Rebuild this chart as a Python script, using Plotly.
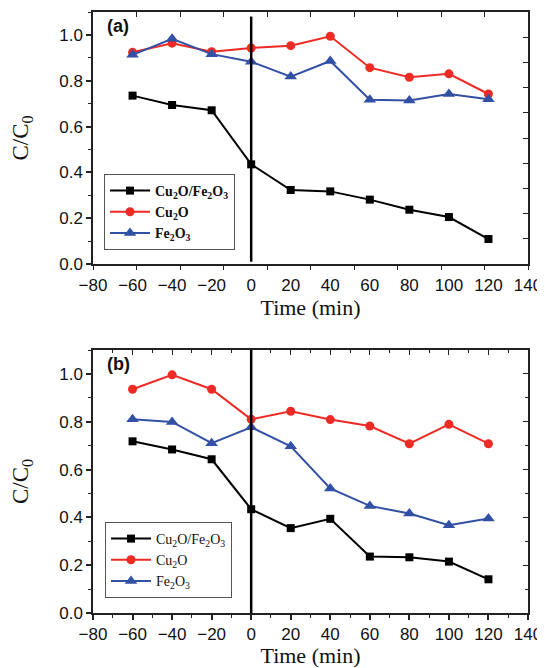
import plotly.graph_objects as go

# time axis (min)
time = [-60, -40, -20, 0, 20, 40, 60, 80, 100, 120]

# panel (a)
a_cu2o_fe2o3 = [0.735, 0.694, 0.671, 0.435, 0.323, 0.317, 0.281, 0.237, 0.205, 0.109]
a_cu2o = [0.924, 0.964, 0.927, 0.943, 0.953, 0.994, 0.857, 0.815, 0.830, 0.742]
a_fe2o3 = [0.913, 0.983, 0.916, 0.883, 0.818, 0.886, 0.717, 0.714, 0.742, 0.719]

# panel (b)
b_cu2o_fe2o3 = [0.718, 0.684, 0.643, 0.434, 0.355, 0.394, 0.236, 0.233, 0.215, 0.141]
b_cu2o = [0.936, 0.996, 0.936, 0.810, 0.844, 0.809, 0.782, 0.708, 0.789, 0.708]
b_fe2o3 = [0.810, 0.799, 0.710, 0.777, 0.697, 0.521, 0.448, 0.416, 0.367, 0.395]

names = ["Cu<sub>2</sub>O/Fe<sub>2</sub>O<sub>3</sub>", "Cu<sub>2</sub>O", "Fe<sub>2</sub>O<sub>3</sub>"]
colors = ["#000000", "#ee2a24", "#3250a4"]
symbols = ["square", "circle", "triangle-up"]
msizes = [8, 9, 11]

SANS = "Liberation Sans"
SERIF = "Liberation Serif"

# page body adds an 8px margin, so the figure is 8px smaller each way
W, H = 537, 660
def px_x(p):
    return (p - 8) / W
def px_y(p):
    return 1 - (p - 8) / H

fig = go.Figure()

#Panel a traces
for i, ys in enumerate([a_cu2o_fe2o3, a_cu2o, a_fe2o3]):
    fig.add_trace(go.Scatter(x=time, y=ys, mode="lines+markers",
                             name="<b>" + names[i] + "</b>",
                             line=dict(color=colors[i], width=2),
                             marker=dict(symbol=symbols[i], size=msizes[i], color=colors[i]),
                             xaxis="x", yaxis="y", legend="legend"))

#Panel b traces
for i, ys in enumerate([b_cu2o_fe2o3, b_cu2o, b_fe2o3]):
    fig.add_trace(go.Scatter(x=time, y=ys, mode="lines+markers",
                             name=names[i],
                             line=dict(color=colors[i], width=2),
                             marker=dict(symbol=symbols[i], size=msizes[i], color=colors[i]),
                             xaxis="x2", yaxis="y2", legend="legend2"))

#Empty traces so the tick-only overlay axes get drawn
for xa, ya in [("x3", "y"), ("x4", "y"), ("x", "y3"), ("x5", "y2"), ("x2", "y4")]:
    fig.add_trace(go.Scatter(x=[], y=[], xaxis=xa, yaxis=ya, showlegend=False, hoverinfo="skip"))

xdom = [px_x(93), px_x(528)]
ydom_a = [px_y(264), px_y(12)]
ydom_b = [px_y(613), px_y(350)]

tickfont = dict(family=SANS, size=17, color="#111")
xtitlefont = dict(family=SERIF, size=22, color="#111")
ytitlefont = dict(family=SERIF, size=23, color="#111")

def main_x(dom_anchor, tickcol, minor):
    d = dict(domain=xdom, anchor=dom_anchor, range=[-80, 140], dtick=20, tick0=0,
             showgrid=False, zeroline=False, showline=True, linecolor="#222",
             linewidth=1.5, mirror=True, tickfont=tickfont, ticklen=5,
             tickwidth=1.5, tickcolor=tickcol, automargin=False, ticks="outside",
             title=dict(text="Time (min)", font=xtitlefont, standoff=1))
    if minor:
        d["minor"] = dict(dtick=10, ticks="outside", ticklen=3, tickcolor="#222", tickwidth=1.2)
    return d

def main_y(dom, anchor):
    return dict(domain=dom, anchor=anchor, range=[0, 1.1], dtick=0.2, tick0=0,
                tickformat=".1f", showgrid=False, zeroline=False, showline=True,
                linecolor="#222", linewidth=1.5, mirror=True, tickfont=tickfont,
                ticks="outside", ticklen=5, tickwidth=1.5, tickcolor="#222",
                automargin=False,
                minor=dict(dtick=0.1, ticks="outside", ticklen=3, tickcolor="#222", tickwidth=1.2),
                title=dict(text="C/C<sub>0</sub>", font=ytitlefont, standoff=27))

def overlay(over, side, anchor, rng, dtick, ticks, minor=None):
    d = dict(overlaying=over, side=side, anchor=anchor, range=rng, dtick=dtick, tick0=rng[0],
             showgrid=False, zeroline=False, showline=False, showticklabels=False,
             ticks=ticks, ticklen=5, tickwidth=1.2, tickcolor="#222", automargin=False)
    if minor:
        d["minor"] = dict(dtick=minor, ticks=ticks, ticklen=3, tickcolor="#222", tickwidth=1.2)
    return d

fig.update_layout(
    width=W, height=H,
    margin=dict(l=0, r=0, t=0, b=0),
    paper_bgcolor="white", plot_bgcolor="white",
    xaxis=main_x("y", "rgba(0,0,0,0)", False),
    yaxis=main_y(ydom_a, "x"),
    xaxis2=main_x("y2", "#222", True),
    yaxis2=main_y(ydom_b, "x2"),
    # panel a tick marks (drawn on their own evenly spaced scale)
    xaxis3=overlay("x", "bottom", "y", [0, 10], 1, "outside"),
    xaxis4=overlay("x", "top", "y", [0, 10], 1, "inside"),
    yaxis3=overlay("y", "right", "x", [0, 10], 1, "inside"),
    # panel b mirror ticks
    xaxis5=overlay("x2", "top", "y2", [-80, 140], 20, "inside", minor=10),
    yaxis4=overlay("y2", "right", "x2", [0, 1.1], 0.2, "inside", minor=0.1),
    legend=dict(x=px_x(104), y=px_y(250), xanchor="left", yanchor="bottom",
                bgcolor="white", bordercolor="#555", borderwidth=1,
                font=dict(family=SERIF, size=14, color="#111"),
                tracegroupgap=0, itemwidth=40),
    legend2=dict(x=px_x(105), y=px_y(598), xanchor="left", yanchor="bottom",
                 bgcolor="white", bordercolor="#555", borderwidth=1,
                 font=dict(family=SERIF, size=14, color="#111"),
                 tracegroupgap=0, itemwidth=40),
    showlegend=True,
)

#Vertical line at t = 0 in each panel
fig.add_shape(type="line", xref="x", yref="y", x0=0, x1=0, y0=0.01, y1=1.08,
              line=dict(color="black", width=2.5))
fig.add_shape(type="line", xref="x2", yref="y2", x0=0, x1=0, y0=0, y1=1.1,
              line=dict(color="black", width=2.5))

#Panel labels
fig.add_annotation(text="<b>(a)</b>", xref="x", yref="y", x=-74, y=1.09,
                   xanchor="left", yanchor="top", showarrow=False,
                   font=dict(family=SANS, size=18, color="#111"))
fig.add_annotation(text="<b>(b)</b>", xref="x2", yref="y2", x=-74, y=1.09,
                   xanchor="left", yanchor="top", showarrow=False,
                   font=dict(family=SANS, size=18, color="#111"))

fig.write_html("out.html")
